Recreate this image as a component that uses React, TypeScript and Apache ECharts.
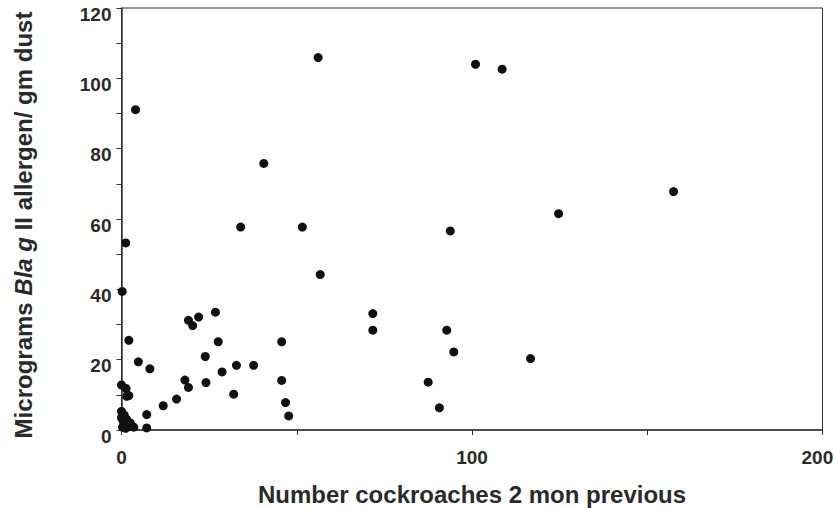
import React, { useEffect, useRef } from "react";
import * as echarts from "echarts";

const cockroaches: number[] = [
  56.1, 4.0, 40.6, 51.6, 56.7, 101, 108.6, 124.7, 93.8, 157.5,
  71.7, 71.7, 92.8, 94.8, 116.7, 87.5, 90.7,
  34, 1.2, 0.2, 26.8, 22, 19.1, 20.3, 2.1, 27.6, 45.7, 23.9, 4.8, 8.1,
  32.8, 37.7, 28.7, 18.1, 19.1, 24.1, 45.7, 32, 46.8, 47.7, 15.7, 11.9,
  7.2, 7.2, 0, 1.3, 2.1, 0, 1.5,
  0, 0.5, 1, 1.5, 2, 2.5, 3, 0.3, 1.2, 3.5, 0.8,
];
const allergen: number[] = [
  105.9, 91.1, 75.8, 57.7, 44.2, 104, 102.6, 61.5, 56.6, 67.8,
  33.1, 28.4, 28.4, 22.2, 20.3, 13.6, 6.3,
  57.7, 53.2, 39.4, 33.5, 32.1, 31.2, 29.7, 25.5, 25.1, 25.1, 20.9, 19.4, 17.4,
  18.4, 18.4, 16.5, 14.2, 12.1, 13.5, 14.1, 10.2, 7.8, 4.0, 8.8, 6.9,
  4.4, 0.6, 12.8, 11.8, 9.8, 5.3, 9.6,
  3.5, 2.5, 1.5, 3, 1, 2, 1.2, 0.8, 0.5, 0.8, 4.2,
];
const xTicks = [0, 100, 200];
const yTicks = [0, 20, 40, 60, 80, 100, 120];

export default function App() {
  const ref = useRef<HTMLDivElement>(null);
  useEffect(() => {
    if (!ref.current) return;
    document.documentElement.style.overflow = "hidden";
    document.body.style.overflow = "hidden";
    const chart = echarts.init(ref.current, null, { renderer: "svg" });
    const data = cockroaches.map((x, i) => [x, allergen[i]]);
    const axisColor = "#333";
    const textColor = "#2a2a2a";
    const font = "'Liberation Sans', Arial, sans-serif";
    const xMax = xTicks[xTicks.length - 1];
    chart.setOption({
      animation: false,
      backgroundColor: "#fff",
      grid: {
        left: 121.5,
        right: 12.5,
        top: 8,
        bottom: 78,
        outerBoundsMode: "none",
        containLabel: false,
        show: true,
        borderColor: axisColor,
        borderWidth: 1,
      },
      xAxis: {
        type: "value",
        min: xTicks[0],
        max: xMax,
        interval: 100,
        name: "Number cockroaches 2 mon previous",
        nameLocation: "middle",
        nameGap: 52,
        nameTextStyle: { fontFamily: font, fontWeight: "bold", fontSize: 24, color: textColor },
        axisLine: { show: true, lineStyle: { color: axisColor, width: 1.5 } },
        axisTick: { show: true, length: 5, lineStyle: { color: axisColor } },
        minorTick: { show: true, splitNumber: 2, length: 5, lineStyle: { color: axisColor } },
        splitLine: { show: false },
        axisLabel: {
          fontFamily: font,
          fontWeight: "bold",
          fontSize: 19,
          color: textColor,
          margin: 18,
          formatter: (v: number) => (v === xMax ? "{r|" + v + "}" : String(v)),
          rich: {
            r: {
              width: 42,
              align: "left",
              fontFamily: font,
              fontWeight: "bold",
              fontSize: 19,
              color: textColor,
            },
          },
        },
      },
      yAxis: {
        type: "value",
        min: yTicks[0],
        max: yTicks[yTicks.length - 1],
        interval: 20,
        name: "Micrograms {i|Bla g} II allergen/ gm dust",
        nameLocation: "middle",
        nameGap: 86,
        nameTextStyle: {
          fontFamily: font,
          fontWeight: "bold",
          fontSize: 24,
          color: textColor,
          padding: [0, 12, 0, 0],
          rich: {
            i: { fontFamily: font, fontWeight: "bold", fontStyle: "italic", fontSize: 24, color: textColor },
          },
        },
        axisLine: { show: true, lineStyle: { color: axisColor, width: 1.5 } },
        axisTick: { show: true, length: 5, lineStyle: { color: axisColor } },
        minorTick: { show: true, splitNumber: 2, length: 5, lineStyle: { color: axisColor } },
        splitLine: { show: false },
        axisLabel: {
          fontFamily: font,
          fontWeight: "bold",
          fontSize: 19,
          color: textColor,
          margin: 10,
          verticalAlign: "top",
          lineHeight: 12,
        },
      },
      series: [
        {
          type: "scatter",
          data,
          symbol: "circle",
          symbolSize: 9,
          itemStyle: { color: "#111", opacity: 1 },
        },
      ],
    });
    return () => chart.dispose();
  }, []);
  return <div ref={ref} style={{ width: 835, height: 508, position: "absolute", left: 0, top: 0 }} />;
}
